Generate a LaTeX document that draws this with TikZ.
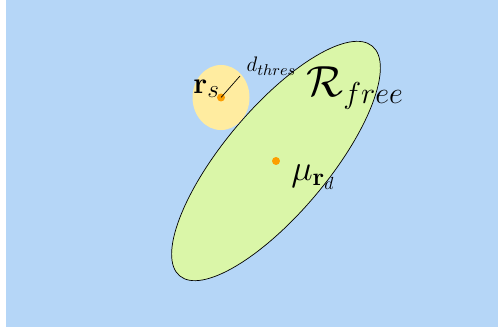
\documentclass[tikz,border=0pt]{standalone}
\usepackage{amsmath}
\definecolor{skyblue}{RGB}{181,214,247}
\definecolor{freegreen}{RGB}{218,246,168}
\definecolor{safeyellow}{RGB}{255,236,160}
\definecolor{dotorange}{RGB}{252,158,0}
\begin{document}
\begin{tikzpicture}[every node/.style={inner sep=0pt},
  dot/.style={circle,fill=dotorange,minimum size=0.16cm}]
\useasboundingbox (0,0) rectangle (10,-6.687);
\fill[skyblue] (0.12,0) rectangle (10,-6.566);
\fill[safeyellow] (4.438,-1.958) ellipse (0.572 and 0.653);
\draw[fill=freegreen] (5.542,-3.233) ellipse [x radius=3.01,y radius=1.05,rotate=50];
\node[dot] (rs) at (4.438,-1.958) {};
\node[dot] (mu) at (5.542,-3.233) {};
\coordinate (rim) at (4.819,-1.526);
\draw (rs.center) -- (rim);
\node (thres) at (5.45,-1.33) {\fontsize{13}{15}\selectfont$d_{thres}$};
\node (rslabel) at (4.15,-1.78) {\fontsize{19}{22}\selectfont$\mathbf{r}_s$};
\node (free) at (7.13,-1.77) {\fontsize{25}{30}\selectfont$\mathcal{R}_{free}$};
\node (mulabel) at (6.29,-3.56) {\fontsize{20}{24}\selectfont$\mu_{\mathbf{r}_d}$};
\end{tikzpicture}
\end{document}
